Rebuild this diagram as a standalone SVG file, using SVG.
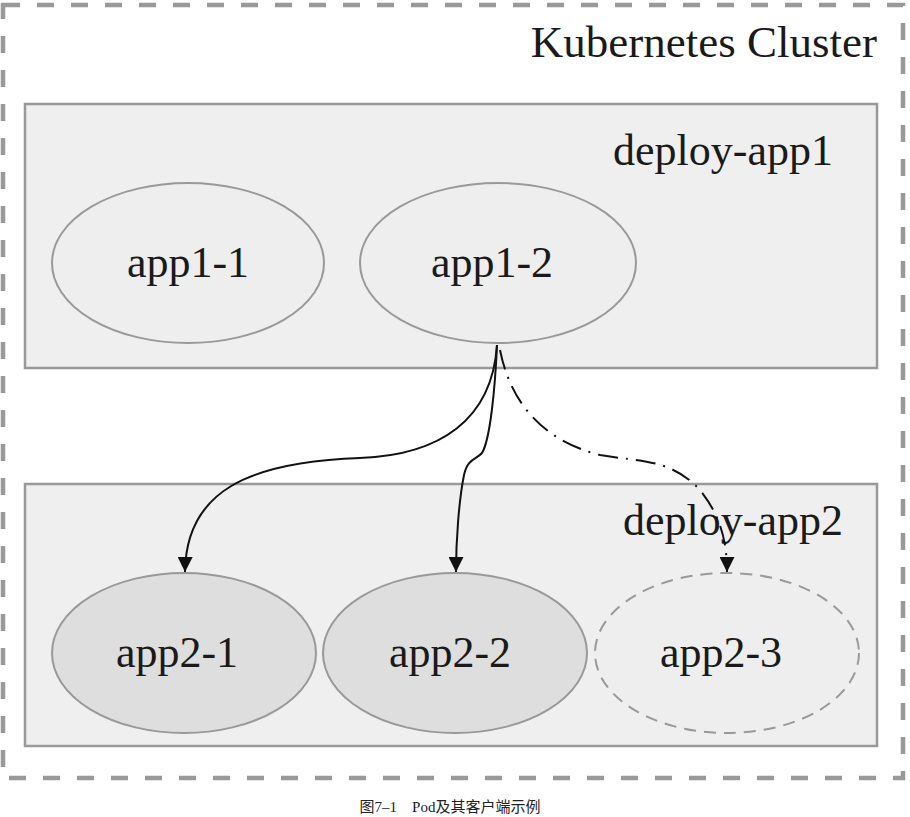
<svg xmlns="http://www.w3.org/2000/svg" width="910" height="817" viewBox="0 0 910 817">
<defs>
<style>
.lbl{font-family:"Liberation Serif","Times New Roman",serif;fill:#1a1a1a}
.box{fill:#efefef;stroke:#999;stroke-width:2.5}
.pod{fill:#eeeeee;stroke:#999;stroke-width:2}
.pod2{fill:#dedede;stroke:#999;stroke-width:2}
.edge{fill:none;stroke:#111;stroke-width:2}
</style>
<marker id="arr" viewBox="0 0 10 10" refX="10" refY="5" markerWidth="16" markerHeight="15" markerUnits="userSpaceOnUse" orient="auto">
<path d="M0,0 L10,5 L0,10 z" fill="#111"/>
</marker>
</defs>
<rect width="910" height="817" fill="#fff"/>
<g id="cluster">
<rect x="3" y="5" width="900" height="773" fill="none" stroke="#999" stroke-width="4.5" stroke-dasharray="17 17"/>
<text class="lbl" x="877" y="57" font-size="45" text-anchor="end">Kubernetes Cluster</text>
</g>
<g id="deploy-app1">
<rect class="box" x="25" y="104" width="852" height="264"/>
<text class="lbl" x="833" y="165" font-size="44" text-anchor="end">deploy-app1</text>
</g>
<g id="deploy-app2">
<rect class="box" x="25" y="484" width="852" height="262"/>
<text class="lbl" x="843" y="535" font-size="44" text-anchor="end">deploy-app2</text>
</g>
<g id="app1-1">
<ellipse class="pod" cx="188" cy="263" rx="136" ry="80"/>
<text class="lbl" x="188" y="277" font-size="44" text-anchor="middle">app1-1</text>
</g>
<g id="app1-2">
<ellipse class="pod" cx="498" cy="263" rx="138" ry="80"/>
<text class="lbl" x="492" y="277" font-size="44" text-anchor="middle">app1-2</text>
</g>
<g id="app2-1">
<ellipse class="pod2" cx="184" cy="653" rx="132" ry="80"/>
<text class="lbl" x="177" y="667" font-size="44" text-anchor="middle">app2-1</text>
</g>
<g id="app2-2">
<ellipse class="pod2" cx="455" cy="653" rx="132" ry="80"/>
<text class="lbl" x="450" y="667" font-size="44" text-anchor="middle">app2-2</text>
</g>
<g id="app2-3">
<ellipse cx="727" cy="653" rx="132" ry="80" fill="#eeeeee" stroke="#999" stroke-width="2" stroke-dasharray="12 8"/>
<text class="lbl" x="721" y="667" font-size="44" text-anchor="middle">app2-3</text>
</g>
<g id="connectors">
<path class="edge" marker-end="url(#arr)" d="M497,345 C492,420 440,455 360,458 C250,462 186,490 185,572"/>
<path class="edge" marker-end="url(#arr)" d="M497,345 C495,390 490,440 482,453 C476,460 468,458 464,475 C459,500 456,540 456,572"/>
<path class="edge" marker-end="url(#arr)" stroke-dasharray="20 8 2 8" d="M500,350 C510,400 540,440 600,455 C640,462 670,458 700,490 C720,515 727,540 727,572"/>
</g>
<text x="450" y="812" font-size="15" text-anchor="middle" style="font-family:'Liberation Serif','Noto Sans CJK SC',serif" fill="#222">图7–1　Pod及其客户端示例</text>
</svg>
